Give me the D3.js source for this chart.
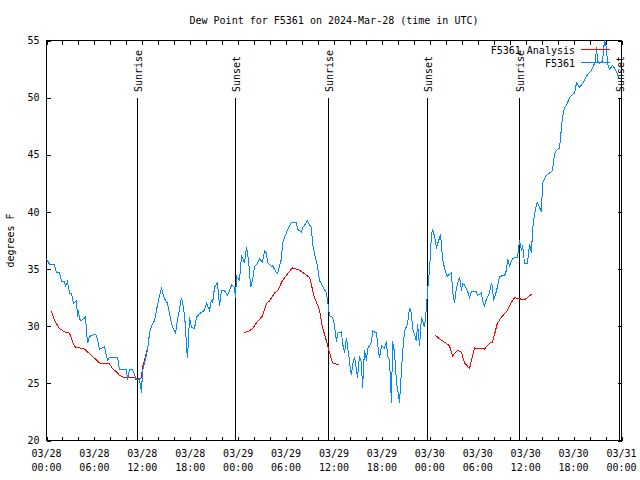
<!DOCTYPE html>
<html><head><meta charset="utf-8">
<script src="https://cdn.jsdelivr.net/npm/d3@7"></script>
<style>
html,body{margin:0;padding:0;background:#fff;}
svg{display:block;font-family:"DejaVu Sans Mono",monospace;font-size:10px;}
</style></head><body>
<svg id="chart" width="640" height="480"></svg>
<script>
const titleText = "Dew Point for F5361 on 2024-Mar-28 (time in UTC)";
const yLabelText = "degrees F";
const startUtc = Date.UTC(2024, 2, 28, 0, 0);
const endUtc = Date.UTC(2024, 2, 31, 0, 0);
const yTicks = [20, 25, 30, 35, 40, 45, 50, 55];
const seriesNames = ["F5361 Analysis", "F5361"];
const seriesColors = ["#ff0000", "#0088ff"];

// Observations: hours after 03/28 00:00 UTC, dew point in F
const obsHours = [
0.00,0.38,1.00,1.25,1.63,1.88,2.25,2.38,2.63,2.88,
3.13,3.38,3.76,3.88,4.01,4.13,4.38,4.88,5.13,5.38,
6.01,6.26,6.64,7.26,7.64,7.89,8.89,9.14,10.02,10.14,
10.39,10.77,11.02,11.27,11.65,11.90,12.02,12.27,12.65,12.90,
13.15,13.52,13.77,14.15,14.40,14.78,15.15,15.40,15.78,16.15,
16.40,16.90,17.16,17.41,17.53,17.66,17.91,18.16,18.53,18.78,
19.16,19.41,19.78,20.04,20.41,20.66,20.79,21.04,21.41,21.66,
21.91,22.29,22.67,23.17,23.54,23.67,23.79,24.17,24.42,24.79,
25.04,25.17,25.42,25.55,25.80,26.05,26.42,26.67,27.05,27.30,
27.55,27.67,28.17,28.30,28.68,28.93,29.18,29.43,29.55,29.93,
30.18,30.68,31.31,31.43,31.93,32.06,32.56,32.68,33.18,33.31,
33.68,33.94,34.19,34.56,35.06,35.19,35.44,35.81,36.06,36.31,
36.44,36.94,37.07,37.32,37.57,37.69,37.94,38.07,38.19,38.32,
38.57,38.82,38.94,39.19,39.44,39.57,39.82,40.07,40.20,40.70,
40.82,41.32,41.45,41.70,41.95,42.32,42.57,42.70,42.95,43.20,
43.33,43.58,43.83,43.95,44.20,44.45,44.58,44.83,45.21,45.45,
45.71,45.83,46.33,46.46,46.71,46.96,47.33,47.58,47.71,47.96,
48.21,48.34,48.59,48.84,48.96,49.21,49.34,49.59,49.84,50.09,
50.21,50.71,50.84,51.09,51.34,51.72,51.97,52.09,52.34,52.72,
52.97,53.22,53.84,53.97,54.47,54.60,54.84,55.10,55.47,55.72,
55.85,55.97,56.35,56.72,56.98,57.35,57.60,57.73,57.98,58.35,
58.60,58.98,59.23,59.48,59.61,59.86,60.23,60.48,60.73,60.86,
61.11,61.36,61.48,61.98,62.11,62.61,62.99,63.36,63.61,63.86,
64.24,64.49,64.61,64.86,65.11,65.49,65.74,66.12,66.37,66.74,
66.99,67.37,67.62,68.24,68.37,68.75,68.87,69.00,69.25,69.62,
69.87,70.12,70.25,70.50,70.87,71.12,71.50,71.62
];
const obsValues = [
35.9,35.4,35.4,34.7,34.7,33.9,33.9,33.5,33.9,32.9,
32.9,32.0,32.2,30.8,31.4,30.6,30.5,30.8,28.5,29.1,
29.3,29.2,28.0,28.2,27.0,27.3,27.3,26.2,26.2,25.3,
26.2,26.2,25.8,25.3,25.3,24.2,26.1,26.8,27.9,29.4,
30.0,30.5,31.4,32.7,33.3,32.4,32.0,31.1,29.9,29.4,
30.5,32.5,31.6,30.0,28.1,27.2,30.8,29.9,29.8,30.8,
31.1,31.2,31.4,32.0,31.4,32.3,32.0,33.4,33.8,31.8,
33.1,33.1,32.7,33.6,33.4,32.5,34.4,34.0,36.2,35.5,
36.9,36.4,34.9,33.4,34.0,35.2,35.5,35.9,35.6,36.6,
36.4,35.6,35.2,35.3,34.8,34.6,35.3,35.9,37.2,38.0,
38.4,39.1,39.1,38.5,38.2,38.6,39.1,39.2,38.6,37.2,
36.0,35.2,34.0,33.5,32.9,32.3,30.9,30.8,30.1,28.6,
29.4,29.5,28.5,27.7,29.0,28.3,27.0,26.1,25.7,26.6,
27.3,26.1,25.5,27.4,26.8,24.6,27.9,27.0,28.0,28.6,
29.6,29.4,28.5,27.2,28.3,28.1,28.7,27.4,27.0,23.3,
28.7,27.7,25.0,24.6,23.3,26.1,27.6,29.6,30.2,31.6,
31.1,29.8,28.7,30.2,28.3,30.8,29.9,31.6,33.1,34.9,
38.1,38.4,37.9,36.8,37.2,37.7,38.1,35.9,35.1,34.5,
34.4,34.7,33.1,32.0,33.4,34.3,33.1,33.7,33.6,33.1,
32.5,33.0,33.0,32.7,32.9,32.2,31.8,32.4,32.9,33.8,
33.4,32.2,33.1,34.3,34.4,34.4,34.9,35.9,35.3,35.9,
36.0,36.0,37.5,36.6,37.1,35.5,35.5,37.2,36.4,38.4,
39.8,40.7,40.8,40.0,42.5,43.2,43.4,43.6,45.1,45.4,
45.6,47.4,48.3,49.1,49.3,50.0,50.2,50.4,51.3,50.9,
51.1,51.5,51.9,52.4,52.6,53.2,54.4,53.2,53.0,53.2,
55.0,54.4,53.0,52.5,52.8,52.6,52.1,51.7
];

// Analysis: hours after 03/28 00:00 UTC (null value = gap)
const anaHours = [
0.63,1.00,1.63,2.25,2.88,3.51,4.13,4.76,5.38,6.01,6.64,6.89,7.89,8.26,8.77,9.14,9.77,11.02,11.27,11.90,12.02,12.27,12.65,
18.0,
24.67,25.42,25.80,26.30,27.05,27.55,27.92,28.55,28.93,29.55,30.43,30.81,31.68,32.68,32.93,33.56,34.19,34.56,35.06,35.44,35.81,36.69,
42.0,
48.71,49.21,49.84,50.46,50.84,51.47,51.97,52.34,52.97,53.60,54.84,55.47,55.85,56.47,57.10,57.73,58.23,58.60,59.23,59.86,60.73
];
const anaValues = [
31.3,30.5,29.8,29.5,29.4,28.2,28.1,28.0,27.6,27.2,26.8,26.7,26.7,26.3,26.0,25.7,25.5,25.5,25.3,25.5,26.4,27.0,28.1,
null,
29.4,29.6,29.8,30.3,30.9,32.0,32.2,32.9,33.1,34.0,34.8,35.1,34.9,34.4,34.3,32.5,31.4,29.9,28.7,27.7,26.8,26.6,
null,
29.2,28.9,28.6,28.3,27.4,27.9,27.7,26.8,26.3,28.1,28.0,28.5,28.6,30.3,30.9,31.4,32.1,32.5,32.4,32.3,32.8
];

const sunriseHours = [11.31, 35.23, 59.14];
const sunsetHours = [23.60, 47.62, 71.66];

const toDate = h => new Date(startUtc + h * 3600000);

const svg = d3.select("#chart");
const L = 46.5, R = 621.5, T = 40.5, B = 440.5;

const x = d3.scaleUtc().domain([new Date(startUtc), new Date(endUtc)]).range([L, R]);
const y = d3.scaleLinear().domain([20, 55]).range([B, T]);

svg.append("rect").attr("width", 640).attr("height", 480).attr("fill", "#fff");

// title
svg.append("text").attr("x", (L + R) / 2).attr("y", 24).attr("text-anchor", "middle").text(titleText);
// y label
svg.append("text").attr("transform", `translate(14,${(T + B) / 2}) rotate(-90)`)
  .attr("text-anchor", "middle").text(yLabelText);

const tickVals = d3.utcHour.every(2).range(new Date(startUtc), new Date(endUtc + 1));

// axes
const gB = svg.append("g").attr("transform", `translate(0,${B})`)
  .call(d3.axisBottom(x).tickValues(tickVals).tickSize(-4).tickFormat(() => ""));
const gT = svg.append("g").attr("transform", `translate(0,${T})`)
  .call(d3.axisTop(x).tickValues(tickVals).tickSize(-4).tickFormat(() => ""));
const gL = svg.append("g").attr("transform", `translate(${L},0)`)
  .call(d3.axisLeft(y).tickValues(yTicks).tickSize(-4).tickPadding(7).tickFormat(d3.format("d")));
const gR = svg.append("g").attr("transform", `translate(${R},0)`)
  .call(d3.axisRight(y).tickValues(yTicks).tickSize(-4).tickFormat(() => ""));
[gB, gT, gL, gR].forEach(g => {
  g.select(".domain").remove();
  g.selectAll("line").attr("stroke", "#000").attr("shape-rendering", "crispEdges");
  g.selectAll("text").attr("fill", "#000").style("font-family", "DejaVu Sans Mono").style("font-size", "10px");
});

// two-line x labels every 6h
const labelVals = tickVals.filter(d => d.getUTCHours() % 6 === 0);
const fmtDay = d3.utcFormat("%m/%d"), fmtTime = d3.utcFormat("%H:%M");
const lab = svg.append("g").attr("text-anchor", "middle");
labelVals.forEach(d => {
  const t = lab.append("text").attr("x", x(d)).attr("y", 457);
  t.append("tspan").attr("x", x(d)).attr("dy", 0).text(fmtDay(d));
  t.append("tspan").attr("x", x(d)).attr("dy", 14).text(fmtTime(d));
});

// frame
svg.append("rect").attr("x", L).attr("y", T).attr("width", R - L).attr("height", B - T)
  .attr("fill", "none").attr("stroke", "#000").attr("shape-rendering", "crispEdges");

// sunrise / sunset markers
const sunEvents = sunriseHours.map(h => ({h, name: "Sunrise"}))
  .concat(sunsetHours.map(h => ({h, name: "Sunset"})));
sunEvents.forEach(e => {
  const xp = Math.round(x(toDate(e.h))) + 0.5;
  svg.append("line").attr("x1", xp).attr("x2", xp).attr("y1", 98).attr("y2", B)
    .attr("stroke", "#000").attr("shape-rendering", "crispEdges");
  svg.append("text").attr("transform", `translate(${xp + 4},92) rotate(-90)`)
    .attr("text-anchor", "start").text(e.name);
});

// series
const anaData = anaHours.map((h, i) => ({t: toDate(h), v: anaValues[i]}));
const obsData = obsHours.map((h, i) => ({t: toDate(h), v: obsValues[i]}));
const line = d3.line().defined(d => d.v != null).x(d => x(d.t)).y(d => y(d.v));

svg.append("path").datum(anaData).attr("d", line).attr("fill", "none")
  .attr("stroke", seriesColors[0]).attr("stroke-width", 1).attr("shape-rendering", "crispEdges");
svg.append("path").datum(obsData).attr("d", line).attr("fill", "none")
  .attr("stroke", seriesColors[1]).attr("stroke-width", 1).attr("shape-rendering", "crispEdges");

// legend
const legY = [49.5, 62.5];
seriesNames.forEach((n, i) => {
  svg.append("text").attr("x", 575).attr("y", legY[i] + 4).attr("text-anchor", "end").text(n);
  svg.append("line").attr("x1", 581).attr("x2", 610).attr("y1", legY[i]).attr("y2", legY[i])
    .attr("stroke", seriesColors[i]).attr("shape-rendering", "crispEdges");
});
</script>
</body></html>
